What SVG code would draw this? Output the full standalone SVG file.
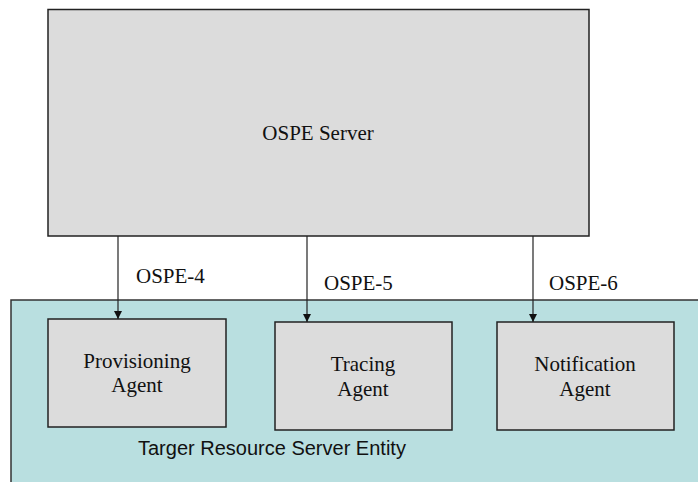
<svg xmlns="http://www.w3.org/2000/svg" width="698" height="482" viewBox="0 0 698 482">
<defs>
<style>
.box{fill:#dcdcdc;stroke:#222;stroke-width:1.5}
.t{font-family:"Liberation Serif","Times New Roman",serif;font-size:21px;fill:#111;text-anchor:middle}
.lbl{font-family:"Liberation Serif","Times New Roman",serif;font-size:21px;fill:#111}
.s{font-family:"Liberation Sans",Arial,sans-serif;font-size:20px;fill:#111}
.c{stroke:#222;stroke-width:1.2;fill:none;marker-end:url(#ah)}
</style>
<marker id="ah" viewBox="0 0 8 10" refX="8" refY="5" markerWidth="8" markerHeight="10" markerUnits="userSpaceOnUse" orient="auto">
<path d="M0,1 L8,5 L0,9 Z" fill="#111"/>
</marker>
</defs>
<rect width="698" height="482" fill="#fff"/>
<g id="entity">
<rect x="11" y="300" width="700" height="200" fill="#b9dfe0" stroke="#333" stroke-width="1.5"/>
<text class="s" x="138" y="455">Targer Resource Server Entity</text>
</g>
<g id="server">
<rect class="box" x="48" y="9.5" width="541" height="226.5"/>
<text class="t" x="318" y="140">OSPE Server</text>
</g>
<g id="provisioning">
<rect class="box" x="48" y="319" width="178" height="108"/>
<text class="t" x="137" y="368">Provisioning</text>
<text class="t" x="137" y="392">Agent</text>
</g>
<g id="tracing">
<rect class="box" x="275" y="322" width="177" height="108"/>
<text class="t" x="363" y="371">Tracing</text>
<text class="t" x="363" y="396">Agent</text>
</g>
<g id="notification">
<rect class="box" x="497" y="322" width="177" height="108"/>
<text class="t" x="585" y="371">Notification</text>
<text class="t" x="585" y="396">Agent</text>
</g>
<g id="connectors">
<line class="c" x1="118" y1="236" x2="118" y2="319"/>
<line class="c" x1="307" y1="236" x2="307" y2="322"/>
<line class="c" x1="533" y1="236" x2="533" y2="322"/>
<text class="lbl" x="136" y="283">OSPE-4</text>
<text class="lbl" x="324" y="290">OSPE-5</text>
<text class="lbl" x="549" y="290">OSPE-6</text>
</g>
</svg>
